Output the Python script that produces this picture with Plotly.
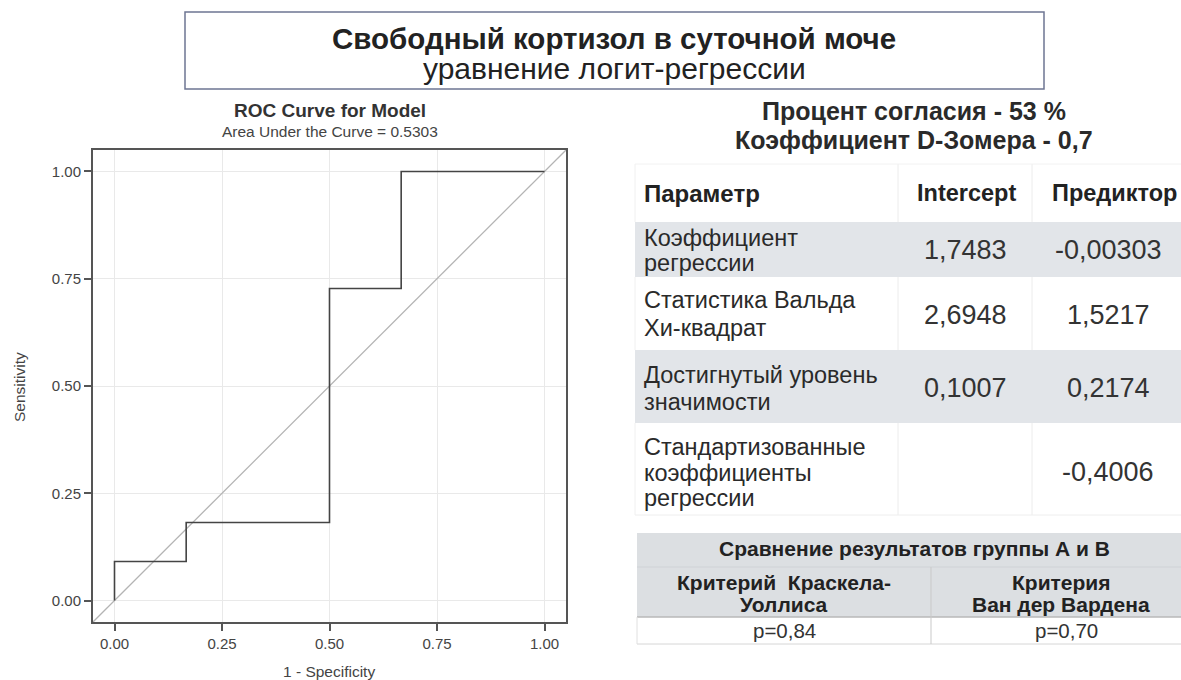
import plotly.graph_objects as go

W, H = 1181, 680
FONT = "Liberation Sans, Arial, sans-serif"

# ROC curve of the logit model (1 - specificity, sensitivity)
roc_fpr = [0.0, 0.0, 0.1667, 0.1667, 0.5, 0.5, 0.6667, 0.6667, 1.0]
roc_tpr = [0.0, 0.0909, 0.0909, 0.1818, 0.1818, 0.7273, 0.7273, 1.0, 1.0]
auc_value = 0.5303
axis_ticks = [0.0, 0.25, 0.5, 0.75, 1.0]
axis_tick_labels = ["0.00", "0.25", "0.50", "0.75", "1.00"]

# Summary statistics
concordance_pct = 53
somers_d = "0,7"

# Regression table
table_headers = ["Параметр", "Intercept", "Предиктор"]
param_labels = [
    ["Коэффициент", "регрессии"],
    ["Статистика Вальда", "Хи-квадрат"],
    ["Достигнутый уровень", "значимости"],
    ["Стандартизованные", "коэффициенты", "регрессии"],
]
intercept_vals = ["1,7483", "2,6948", "0,1007", ""]
predictor_vals = ["-0,00303", "1,5217", "0,2174", "-0,4006"]

# Group comparison table
group_title = "Сравнение результатов группы А и В"
group_tests = [["Критерий  Краскела-", "Уоллиса"], ["Критерия", "Ван дер Вардена"]]
group_pvalues = ["p=0,84", "p=0,70"]


def px(x):
    return x / W


def py(y):
    return 1 - y / H


shapes = []
annotations = []


def rect(x0, y0, x1, y1, fill="rgba(0,0,0,0)", line_color=None, line_width=0):
    shapes.append(dict(type="rect", xref="paper", yref="paper",
                       x0=px(x0), x1=px(x1), y0=py(y1), y1=py(y0),
                       fillcolor=fill,
                       line=dict(color=line_color or "rgba(0,0,0,0)", width=line_width)))


def hline(x0, x1, y, color, width=1):
    shapes.append(dict(type="line", xref="paper", yref="paper",
                       x0=px(x0), x1=px(x1), y0=py(y), y1=py(y),
                       line=dict(color=color, width=width)))


def vline(x, y0, y1, color, width=1):
    shapes.append(dict(type="line", xref="paper", yref="paper",
                       x0=px(x), x1=px(x), y0=py(y0), y1=py(y1),
                       line=dict(color=color, width=width)))


def text(x, y, s, size, color="#222", bold=False, anchor="center", angle=0):
    annotations.append(dict(xref="paper", yref="paper", x=px(x), y=py(y),
                            text=f"<b>{s}</b>" if bold else s,
                            showarrow=False, xanchor=anchor, yanchor="middle",
                            textangle=angle,
                            font=dict(family=FONT, size=size, color=color)))


fig = go.Figure()

# Reference diagonal and ROC step curve
fig.add_trace(go.Scatter(x=[-0.05, 1.05], y=[-0.05, 1.05], mode="lines",
                         line=dict(color="#b4b4b4", width=1.3), hoverinfo="skip"))
fig.add_trace(go.Scatter(x=roc_fpr, y=roc_tpr, mode="lines",
                         line=dict(color="#444444", width=1.6)))

axis_common = dict(range=[-0.05, 1.05], tickvals=axis_ticks, ticktext=axis_tick_labels,
                   showgrid=True, gridcolor="#e9e9e9", gridwidth=1,
                   showline=True, linecolor="#555", linewidth=2, mirror=True,
                   ticks="outside", ticklen=7, tickcolor="#555", tickwidth=1.5,
                   zeroline=False, fixedrange=True,
                   tickfont=dict(family=FONT, size=15, color="#444"))

fig.update_layout(
    width=W, height=H,
    margin=dict(l=0, r=0, t=0, b=0),
    paper_bgcolor="white", plot_bgcolor="white",
    showlegend=False,
    xaxis=dict(domain=[px(93), px(566)], **axis_common),
    yaxis=dict(domain=[py(622), py(150)], **axis_common),
)

# ROC titles and axis titles
text(330, 111, "ROC Curve for Model", 19, "#333", bold=True)
text(330, 131, f"Area Under the Curve = {auc_value:.4f}", 15.5, "#444")
text(329, 671, "1 - Specificity", 15.5, "#444")
text(19, 387, "Sensitivity", 15.5, "#444", angle=-90)

# Main heading box
rect(185, 12, 1044, 89, fill="white", line_color="#6e7592", line_width=1.5)
text(614, 38, "Свободный кортизол в суточной моче", 29.5, "#222", bold=True)
text(614, 69, "уравнение логит-регрессии", 30, "#222")

# Summary lines
text(914, 111, f"Процент согласия - {concordance_pct} %", 25, "#2a2a2a", bold=True)
text(914, 140, f"Коэффициент D-Зомера - {somers_d}", 25, "#2a2a2a", bold=True)

# Regression table
GREY = "#e2e5e9"
col_x = [635, 898, 1032, 1196]
row_y = [164, 222, 277, 350, 423, 515]
rect(col_x[0], row_y[0], W + 20, row_y[1], fill="white")
for i in range(4):
    fill = GREY if i % 2 == 0 else "white"
    rect(col_x[0], row_y[i + 1], W + 20, row_y[i + 2], fill=fill)
# faint cell borders in white rows
for (y0, y1) in [(row_y[0], row_y[1]), (row_y[2], row_y[3]), (row_y[4], row_y[5])]:
    vline(col_x[1], y0, y1, "#ececec")
    vline(col_x[2], y0, y1, "#ececec")
    vline(col_x[0], y0, y1, "#f0f0f0")
hline(col_x[0], W, row_y[0], "#f2f2f2")
hline(col_x[0], W, row_y[5], "#eeeeee")

text(642, 193, table_headers[0], 24, "#222", bold=True, anchor="left")
text(966, 193, table_headers[1], 23.5, "#222", bold=True)
text(1114, 193, table_headers[2], 23.5, "#222", bold=True)

label_lines_y = [[238, 263], [300, 328], [375, 402], [447, 473, 498]]
value_y = [250, 315, 388, 472]
for i, lines in enumerate(param_labels):
    for s, y in zip(lines, label_lines_y[i]):
        text(642, y, s, 23.5, "#2a2a2a", anchor="left")
    if intercept_vals[i]:
        text(965, value_y[i], intercept_vals[i], 27, "#333")
    text(1108, value_y[i], predictor_vals[i], 27, "#333")

# Group comparison table
G2 = "#dcdfe2"
gx0, gxm, gx1 = 637, 931, W + 20
rect(gx0, 533, gx1, 567, fill=G2)
rect(gx0, 567, gx1, 617, fill=G2)
rect(gx0, 617, gx1, 644, fill="white")
hline(gx0, W, 567, "#cfd2d6", 1)
hline(gx0, W, 617, "#b9b9b9", 1.5)
hline(gx0, W, 644, "#d6d6d6", 1)
vline(gxm, 567, 644, "#c9c9c9", 1)
vline(gx0, 617, 644, "#e0e0e0", 1)

text(914, 548, group_title, 21, "#222", bold=True)
test_x = [784, 1061]
pval_x = [784, 1066]
for j in range(2):
    text(test_x[j], 582, group_tests[j][0], 21, "#222", bold=True)
    text(test_x[j], 604, group_tests[j][1], 21, "#222", bold=True)
    text(pval_x[j], 630, group_pvalues[j], 20.5, "#333")

fig.update_layout(shapes=shapes, annotations=annotations)
fig.write_html("out.html")
